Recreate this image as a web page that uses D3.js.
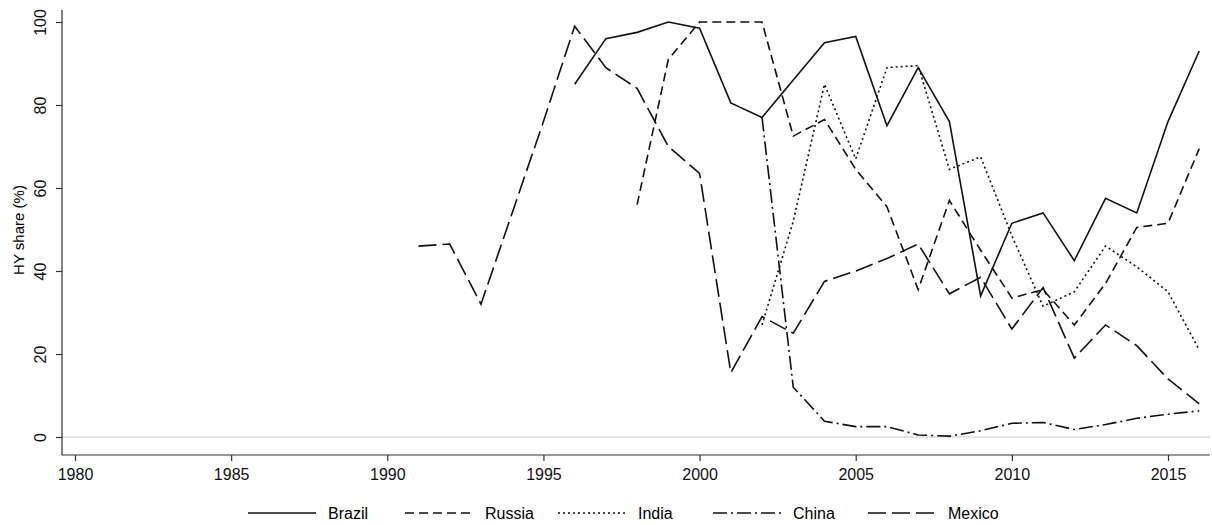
<!DOCTYPE html><html><head><script src="https://cdn.jsdelivr.net/npm/d3@7"></script>
<style>body{margin:0;background:#fff}text{font-family:"Liberation Sans",Arial,sans-serif}</style></head><body><svg width="1212" height="525"></svg><script>
const brazilYears=d3.range(1996,2017);
const brazil=[85,96,97.5,100,98.5,80.5,77,86,95,96.5,75,89,76,34,51.5,54,42.5,57.5,54,76,93];
const russiaYears=d3.range(1998,2017);
const russia=[56,91,100,100,100,72.5,76.5,64.5,55.5,35.5,57,45,33.5,35.5,27,37,50.5,51.5,69.5];
const indiaYears=d3.range(2002,2017);
const india=[27,52,85,67,89,89.5,64.5,67.5,48.5,31.5,35,46,41,35,21];
const chinaYears=d3.range(2002,2017);
const china=[77,12,3.8,2.5,2.5,0.5,0.2,1.5,3.3,3.5,1.8,3,4.5,5.5,6.3];
const mexicoYears=d3.range(1991,2017);
const mexico=[46,46.5,32,54,76,99,89,84,70,63.5,15.5,29,25,37.5,40,43,46.5,34.5,38.5,26,36,19,27,22,14,8];
const xTicks=[1980,1985,1990,1995,2000,2005,2010,2015];
const yTicks=[0,20,40,60,80,100];
const series=[
 {name:"Brazil",years:brazilYears,vals:brazil,dash:null},
 {name:"Russia",years:russiaYears,vals:russia,dash:"9,5"},
 {name:"India",years:indiaYears,vals:india,dash:"2,3"},
 {name:"China",years:chinaYears,vals:china,dash:"14,4,2,4"},
 {name:"Mexico",years:mexicoYears,vals:mexico,dash:"18,6"}];
const svg=d3.select("svg");
const x=d3.scaleLinear().domain([1980,2015]).range([75,1168]);
const y=d3.scaleLinear().domain([0,100]).range([437,22]);
svg.append("line").attr("x1",62).attr("x2",1210).attr("y1",y(0)).attr("y2",y(0)).attr("stroke","#ddd").attr("stroke-width",1.5);
const xa=svg.append("g").attr("transform","translate(0,455)").call(d3.axisBottom(x).tickValues(xTicks).tickFormat(d3.format("d")).tickSize(6).tickSizeOuter(0));
xa.select(".domain").attr("d","M62,0H1210");
xa.selectAll("text").attr("font-size",16).attr("dy","1em").attr("fill","#111");
const ya=svg.append("g").attr("transform","translate(62,0)").call(d3.axisLeft(y).tickValues(yTicks).tickSize(6).tickSizeOuter(0));
ya.select(".domain").attr("d","M0,10V455");
ya.selectAll(".tick text").attr("font-size",16).attr("transform","rotate(-90)").attr("x",0).attr("y",-16).attr("text-anchor","middle").attr("dy",0).attr("fill","#111");
svg.selectAll(".domain,.tick line").attr("stroke","#333").attr("stroke-width",1.2);
svg.append("text").attr("transform","translate(24,230) rotate(-90)").attr("text-anchor","middle").attr("font-size",15).text("HY share (%)");
const line=d3.line().x(d=>x(d[0])).y(d=>y(d[1]));
series.forEach(s=>{
 svg.append("path").datum(s.years.map((yr,i)=>[yr,s.vals[i]])).attr("d",line).attr("fill","none").attr("stroke","#111").attr("stroke-width",1.6).attr("stroke-dasharray",s.dash);
});
const lx=[248,405,558,713,868];
series.forEach((s,i)=>{
 svg.append("line").attr("x1",lx[i]).attr("x2",lx[i]+68).attr("y1",513).attr("y2",513).attr("stroke","#111").attr("stroke-width",1.6).attr("stroke-dasharray",s.dash);
 svg.append("text").attr("x",lx[i]+80).attr("y",519).attr("font-size",16).text(s.name);
});
</script></body></html>
